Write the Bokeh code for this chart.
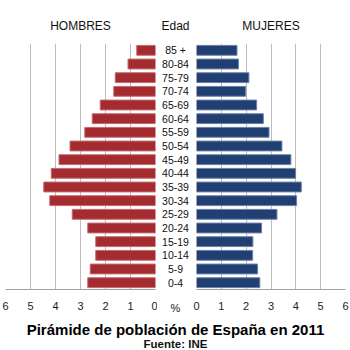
from bokeh.plotting import figure
from bokeh.layouts import row, column
from bokeh.models import Range1d, FactorRange, FixedTicker
from bokeh.embed import file_html
from bokeh.resources import INLINE
from bokeh.core.properties import value

# ---- data ----
ages = ["0-4", "5-9", "10-14", "15-19", "20-24", "25-29", "30-34", "35-39",
        "40-44", "45-49", "50-54", "55-59", "60-64", "65-69", "70-74",
        "75-79", "80-84", "85 +"]
hombres = [2.71, 2.61, 2.39, 2.39, 2.71, 3.33, 4.23, 4.47, 4.17, 3.86,
           3.42, 2.83, 2.53, 2.21, 1.67, 1.61, 1.10, 0.75]
mujeres = [2.55, 2.46, 2.26, 2.27, 2.62, 3.24, 4.03, 4.22, 3.99, 3.80,
           3.44, 2.92, 2.69, 2.42, 1.98, 2.11, 1.69, 1.63]
ticks = [0, 1, 2, 3, 4, 5, 6]
headers = ["HOMBRES", "Edad", "MUJERES"]
title_text = "Pirámide de población de España en 2011"
source_text = "Fuente: INE"

FONT = "Liberation Sans"
RED = "#a42b2f"
BLUE = "#213f72"


def style_side(p):
    p.outline_line_color = None
    p.ygrid.grid_line_color = None
    p.xgrid.grid_line_color = "#bdbdbd"
    p.xaxis.ticker = FixedTicker(ticks=ticks)
    p.xaxis.major_tick_line_color = None
    p.xaxis.minor_tick_line_color = None
    p.xaxis.axis_line_color = "#a0a0a0"
    p.xaxis.major_label_text_font = FONT
    p.xaxis.major_label_text_font_size = "11px"
    p.xaxis.major_label_text_color = "#222222"
    p.xaxis.major_label_standoff = 6


def blank(width, height):
    p = figure(width=width, height=height, x_range=Range1d(0, width),
               y_range=Range1d(0, height), x_axis_location=None,
               y_axis_location=None, toolbar_location=None,
               output_backend="svg", min_border=0)
    p.outline_line_color = None
    p.grid.grid_line_color = None
    return p


# header row with the three column titles
top = blank(350, 43)
top.text(x=[80, 175, 270.5], y=[18, 18, 18], text=headers, text_align="center",
         text_baseline="alphabetic", text_font=value(FONT),
         text_font_size="12px", text_color="#111111")

left = figure(width=157, height=273, x_range=Range1d(6, 0),
              y_range=FactorRange(factors=ages), y_axis_location=None,
              toolbar_location=None, output_backend="svg",
              min_border_left=5, min_border_right=2,
              min_border_top=0, min_border_bottom=22)
style_side(left)
left.hbar(y=ages, left=0, right=hombres, height=0.72,
          fill_color=RED, line_color="#c46a6c", line_width=1)

right = figure(width=157, height=273, x_range=Range1d(0, 6),
               y_range=left.y_range, y_axis_location=None,
               toolbar_location=None, output_backend="svg",
               min_border_left=3, min_border_right=5,
               min_border_top=0, min_border_bottom=22)
style_side(right)
right.hbar(y=ages, left=0, right=mujeres, height=0.72,
           fill_color=BLUE, line_color="#6a80a8", line_width=1)

mid = figure(width=36, height=273, x_range=Range1d(0, 2),
             y_range=left.y_range, y_axis_location=None,
             toolbar_location=None, output_backend="svg",
             min_border_left=0, min_border_right=0,
             min_border_top=0, min_border_bottom=22)
style_side(mid)
mid.xgrid.grid_line_color = None
mid.xaxis.axis_line_color = None
mid.xaxis.ticker = FixedTicker(ticks=[1])
mid.xaxis.major_label_overrides = {1: "%"}
mid.text(x=1, y=ages, text=ages, text_align="center", text_baseline="middle",
         text_font=value(FONT), text_font_size="10.5px", text_color="#111111")

bottom = blank(350, 34)
bottom.text(x=[175], y=[21.5], text=[title_text], text_align="center",
            text_baseline="alphabetic", text_font=value(FONT),
            text_font_size="15px", text_font_style="bold", text_color="#000000")
bottom.text(x=[175], y=[7], text=[source_text], text_align="center",
            text_baseline="alphabetic", text_font=value(FONT),
            text_font_size="11.5px", text_font_style="bold", text_color="#111111")

layout = column(top, row(left, mid, right), bottom)
open("out.html", "w").write(file_html(layout, INLINE))
